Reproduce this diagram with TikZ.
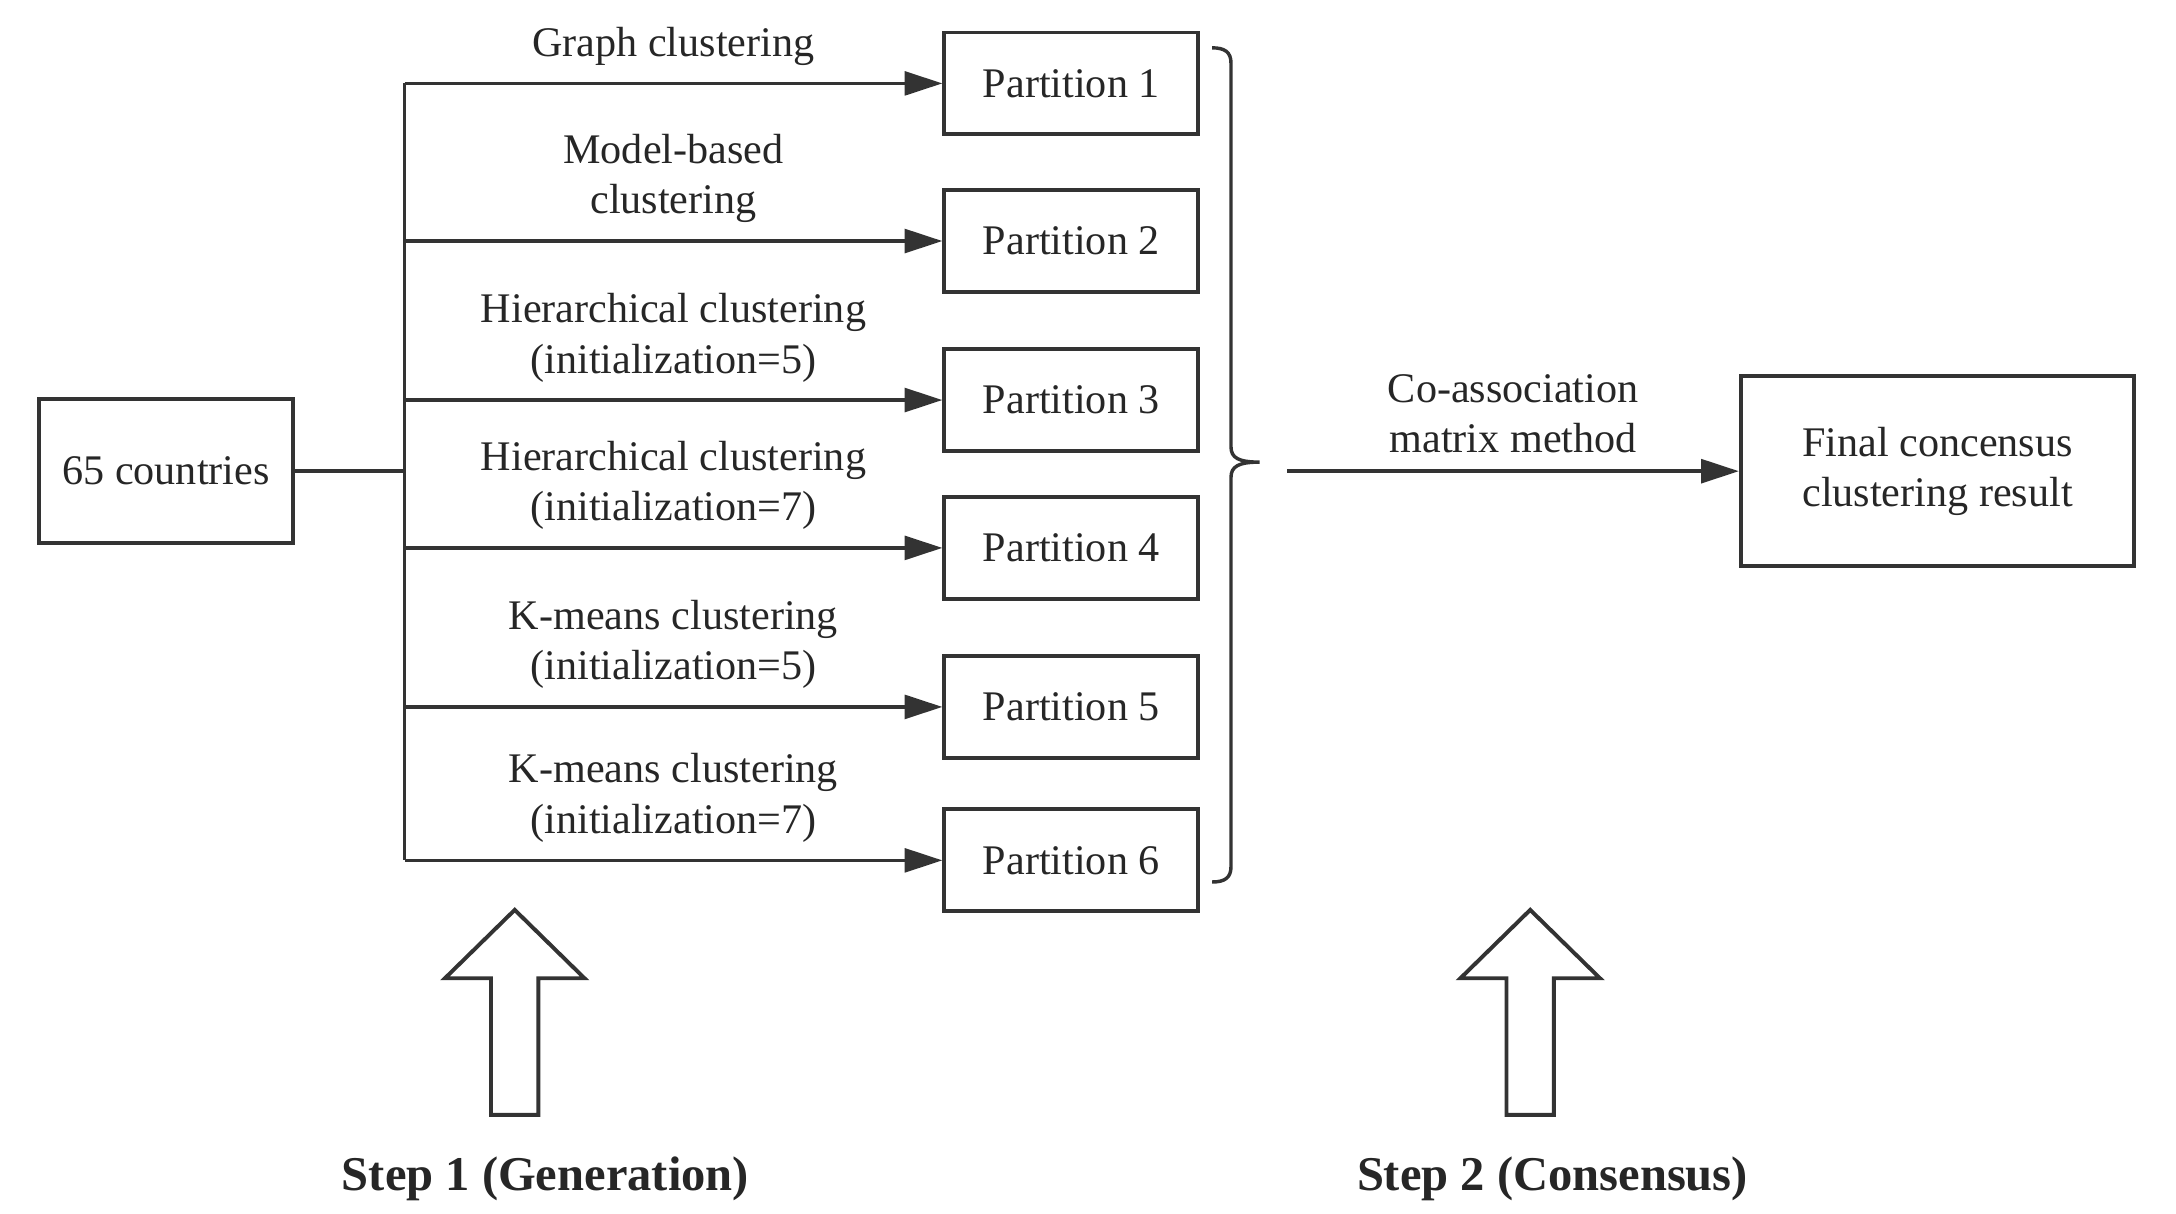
\documentclass[tikz,border=0pt]{standalone}
\usepackage{fontspec}
\setmainfont{Liberation Serif}
\usetikzlibrary{arrows.meta,positioning}

\begin{document}
\begin{tikzpicture}[>={Triangle[length=2.7mm,width=1.7mm]},
    every node/.style={font=\fontsize{8.6}{10.3}\selectfont,text=black!85},
    box/.style={draw=black!80,line width=0.8pt,minimum height=0.73cm,minimum width=1.82cm},
    link/.style={draw=black!80,line width=0.7pt},
    steplabel/.style={font=\fontsize{9.9}{12}\selectfont\bfseries}]
\useasboundingbox (0,0) rectangle (15.6,8.703);
\node[box,minimum height=1.03cm] (c) at (1.19,5.325) {65 countries};
\coordinate (t) at (2.90,5.325);
\foreach \i/\y in {1/8.105,2/6.975,3/5.835,4/4.775,5/3.635,6/2.535}
  \node[box] (p_\i) at (7.68,\y) {Partition \i};
\draw[link] (c) -- (t);
\draw[link] (t |- p_1) -- (t |- p_6);
\foreach \i/\txt in {1/{Graph clustering},2/{Model-based\\clustering},
    3/{Hierarchical clustering\\(initialization=5)},4/{Hierarchical clustering\\(initialization=7)},
    5/{K-means clustering\\(initialization=5)},6/{K-means clustering\\(initialization=7)}}
  \draw[link,->] (t |- p_\i) -- node[above,align=center] {\txt} (p_\i);
% brace over the partitions
\draw[link] (8.69,8.36) .. controls (8.78,8.36) and (8.825,8.33) .. (8.825,8.25)
  -- (8.825,5.50) .. controls (8.825,5.42) and (8.88,5.39) .. (9.03,5.39)
  .. controls (8.88,5.39) and (8.825,5.36) .. (8.825,5.28)
  -- (8.825,2.49) .. controls (8.825,2.41) and (8.78,2.38) .. (8.69,2.38);
\coordinate (m) at (9.23,5.325);
\node[box,minimum width=2.82cm,minimum height=1.36cm,align=center] (r) at (13.89,5.325)
  {Final concensus\\clustering result};
\draw[link,->] (m) -- node[above,align=center] {Co-association\\matrix method} (r);
% hollow arrows
\foreach \x in {3.69,10.97}
  \draw[link,line width=0.8pt] (\x-0.17,0.71) -- (\x-0.17,1.69) -- (\x-0.50,1.69) -- (\x,2.18)
    -- (\x+0.50,1.69) -- (\x+0.17,1.69) -- (\x+0.17,0.71) -- cycle;
\node[steplabel] (s_1) at (3.91,0.25) {Step 1 (Generation)};
\node[steplabel] (s_2) at (11.13,0.25) {Step 2 (Consensus)};
\end{tikzpicture}
\end{document}
